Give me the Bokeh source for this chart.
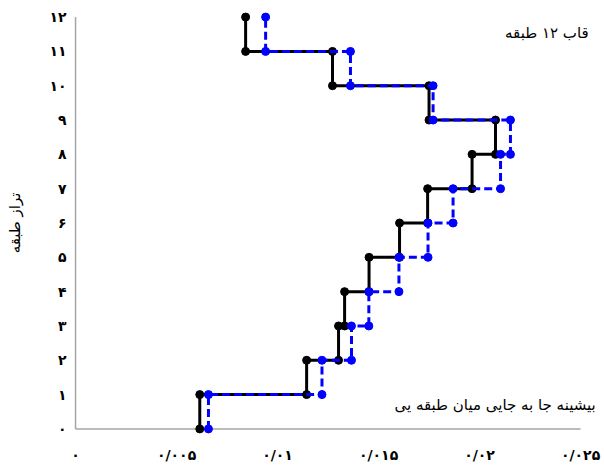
from bokeh.plotting import figure
from bokeh.models import Range1d, FixedTicker, Label, ColumnDataSource
from bokeh.embed import file_html
from bokeh.resources import INLINE

# Story levels and peak inter-story drift per story (stories 1..12)
levels = list(range(0, 13))
drift_black = [0.00615, 0.01144, 0.01302, 0.01332, 0.01453, 0.01604,
               0.01743, 0.01963, 0.02079, 0.01750, 0.01272, 0.00842]
drift_blue = [0.00658, 0.01220, 0.01366, 0.01452, 0.01601, 0.01745,
              0.01869, 0.02104, 0.02153, 0.01770, 0.01361, 0.00941]

x_ticks = [0, 0.005, 0.01, 0.015, 0.02, 0.025]
x_tick_labels = ["۰", "۰/۰۰۵", "۰/۰۱", "۰/۰۱۵", "۰/۰۲", "۰/۰۲۵"]
y_tick_labels = ["۰", "۱", "۲", "۳", "۴", "۵", "۶", "۷", "۸", "۹", "۱۰", "۱۱", "۱۲"]

title_text = "قاب ۱۲ طبقه"
x_title = "بیشینه جا به جایی میان  طبقه یی"
y_title = "تراز طبقه"

FONT = "DejaVu Sans"


def step_path(drifts):
    """Each story drift is drawn as a vertical run from its floor to its ceiling."""
    xs, ys = [], []
    for i, d in enumerate(drifts):
        xs += [d, d]
        ys += [levels[i], levels[i + 1]]
    return xs, ys


p = figure(width=604, height=465, output_backend="svg", toolbar_location=None,
           x_range=Range1d(-0.0002, 0.026186), y_range=Range1d(-0.25, 12.25),
           min_border_left=71, min_border_right=0, min_border_top=8, min_border_bottom=25)
p.outline_line_color = None
p.grid.visible = False
p.background_fill_color = "white"
p.border_fill_color = "white"

# axes: labels only, lines drawn separately at the zero positions
p.xaxis.ticker = FixedTicker(ticks=x_ticks)
p.xaxis.major_label_overrides = {t: l for t, l in zip(x_ticks, x_tick_labels)}
p.yaxis.ticker = FixedTicker(ticks=levels)
p.yaxis.major_label_overrides = {t: l for t, l in zip(levels, y_tick_labels)}
for ax in (p.xaxis, p.yaxis):
    ax.axis_line_color = None
    ax.major_tick_line_color = None
    ax.minor_tick_line_color = None
    ax.major_tick_out = 0
    ax.major_tick_in = 0
    ax.minor_tick_out = 0
    ax.major_label_text_font = FONT
    ax.major_label_text_font_size = "14px"
    ax.major_label_text_font_style = "bold"
    ax.major_label_text_color = "black"
p.xaxis.major_label_standoff = 9
p.yaxis.major_label_standoff = 5

p.yaxis.axis_label = y_title
p.yaxis.axis_label_text_font = FONT
p.yaxis.axis_label_text_font_size = "15px"
p.yaxis.axis_label_text_font_style = "normal"
p.yaxis.axis_label_text_color = "black"
p.yaxis.axis_label_standoff = 22

p.segment(x0=[0, 0], y0=[0, 0], x1=[x_ticks[-1], 0], y1=[0, levels[-1]],
          line_color="#a6a6a6", line_width=1.5)

bx, by = step_path(drift_black)
ux, uy = step_path(drift_blue)
src_b = ColumnDataSource(dict(x=bx, y=by))
src_u = ColumnDataSource(dict(x=ux, y=uy))

p.line("x", "y", source=src_b, line_color="black", line_width=3)
p.scatter("x", "y", source=src_b, size=8, fill_color="black", line_color="black")
p.line("x", "y", source=src_u, line_color="#0000ff", line_width=3, line_dash="8 4")
p.scatter("x", "y", source=src_u, size=8, fill_color="#0000ff", line_color="#0000ff")

p.add_layout(Label(x=0.0254, y=11.53, text=title_text, text_align="right",
                   text_baseline="middle", text_font=FONT, text_font_size="15px",
                   text_color="black"))
p.add_layout(Label(x=0.02599, y=0.71, text=x_title, text_align="right",
                   text_baseline="middle", text_font=FONT, text_font_size="15px",
                   text_color="black"))

open("out.html", "w").write(file_html(p, INLINE))
